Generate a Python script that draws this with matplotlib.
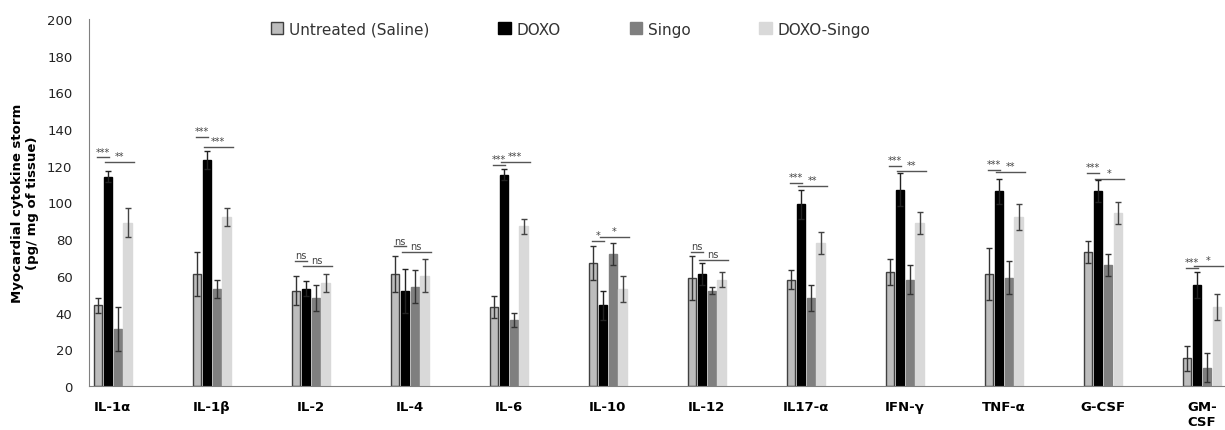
import numpy as np
import matplotlib
matplotlib.use("Agg")
import matplotlib.pyplot as plt

categories = ["IL-1α", "IL-1β", "IL-2", "IL-4", "IL-6", "IL-10", "IL-12",
              "IL17-α", "IFN-γ", "TNF-α", "G-CSF", "GM-\nCSF"]
series_names = ["Untreated (Saline)", "DOXO", "Singo", "DOXO-Singo"]

untreated = [44, 61, 52, 61, 43, 67, 59, 58, 62, 61, 73, 15]
doxo = [114, 123, 53, 52, 115, 44, 61, 99, 107, 106, 106, 55]
singo = [31, 53, 48, 54, 36, 72, 52, 48, 58, 59, 66, 10]
doxo_singo = [89, 92, 56, 60, 87, 53, 58, 78, 89, 92, 94, 43]

untreated_err = [4, 12, 8, 10, 6, 9, 12, 5, 7, 14, 6, 7]
doxo_err = [3, 5, 4, 12, 3, 8, 6, 8, 9, 7, 6, 7]
singo_err = [12, 5, 7, 9, 4, 6, 2, 7, 8, 9, 6, 8]
doxo_singo_err = [8, 5, 5, 9, 4, 7, 4, 6, 6, 7, 6, 7]

# significance: (label1, y1) U vs DOXO ; (label2, y2) DOXO vs DOXO-Singo
sig1_labels = ["***", "***", "ns", "ns", "***", "*", "ns", "***", "***", "***", "***", "***"]
sig1_y = [124.5, 135.5, 68, 76, 120.5, 79, 73, 110.5, 120, 117.5, 116, 64.5]
sig2_labels = ["**", "***", "ns", "ns", "***", "*", "ns", "**", "**", "**", "*", "*"]
sig2_y = [122, 130, 65.5, 73, 122, 81, 68.5, 109, 117, 116.5, 113, 65.5]

yticks = list(range(0, 201, 20))

fig = plt.figure(figsize=(12.25, 4.31), dpi=100)
ax = fig.add_axes([0.0727, 0.102, 0.927, 0.852])

x = np.arange(len(categories))
w = 0.085
offs = [-0.15, -0.05, 0.05, 0.15]
colors = ["#bdbdbd", "#000000", "#7f7f7f", "#d9d9d9"]
edges = ["#404040", "#000000", "#7f7f7f", "#d9d9d9"]
vals = [untreated, doxo, singo, doxo_singo]
errs = [untreated_err, doxo_err, singo_err, doxo_singo_err]
ecols = ["#333333", "#222222", "#333333", "#444444"]

handles = []
for i in range(4):
    b = ax.bar(x + offs[i], vals[i], width=w, color=colors[i], edgecolor=edges[i],
               linewidth=1.0, label=series_names[i], zorder=2)
    ax.errorbar(x + offs[i], vals[i], yerr=errs[i], fmt="none", ecolor=ecols[i],
                elinewidth=1.0, capsize=2, capthick=1.0, zorder=3)
    handles.append(b)

for j in range(len(categories)):
    cx = x[j]
    x1a, x1b = cx - 0.16, cx - 0.035
    ax.plot([x1a, x1b], [sig1_y[j], sig1_y[j]], color="#555555", lw=1.0)
    ax.text((x1a + x1b) / 2, sig1_y[j] + 0.5, sig1_labels[j], ha="center", va="bottom",
            fontsize=7, color="#444444")
    x2a, x2b = cx - 0.08, cx + 0.21
    ax.plot([x2a, x2b], [sig2_y[j], sig2_y[j]], color="#555555", lw=1.0)
    ax.text((x2a + x2b) / 2, sig2_y[j] + 0.5, sig2_labels[j], ha="center", va="bottom",
            fontsize=7, color="#444444")

ax.set_xlim(-0.24, 11.23)
ax.set_ylim(0, 200)
ax.set_yticks(yticks)
ax.set_xticks(x)
ax.set_xticklabels(categories, fontsize=9.5, fontweight="bold", va="top")
ax.tick_params(axis="both", length=0)
ax.tick_params(axis="x", pad=10)
ax.tick_params(axis="y", labelsize=9.5, labelcolor="#222222", pad=12)
for s in ["top", "right"]:
    ax.spines[s].set_visible(False)
ax.spines["left"].set_color("#808080")
ax.spines["bottom"].set_color("#808080")
ax.set_ylabel("Myocardial cytokine storm\n(pg/ mg of tissue)", fontsize=9.5,
              fontweight="bold", labelpad=6)

leg = ax.legend(handles=handles, labels=series_names, ncol=4, loc="upper left",
                bbox_to_anchor=(0.148, 1.03), frameon=False, fontsize=11,
                handlelength=0.8, handleheight=0.8, handletextpad=0.4,
                columnspacing=4.5)
for t in leg.get_texts():
    t.set_color("#333333")

fig.savefig("out.png", dpi=100)
